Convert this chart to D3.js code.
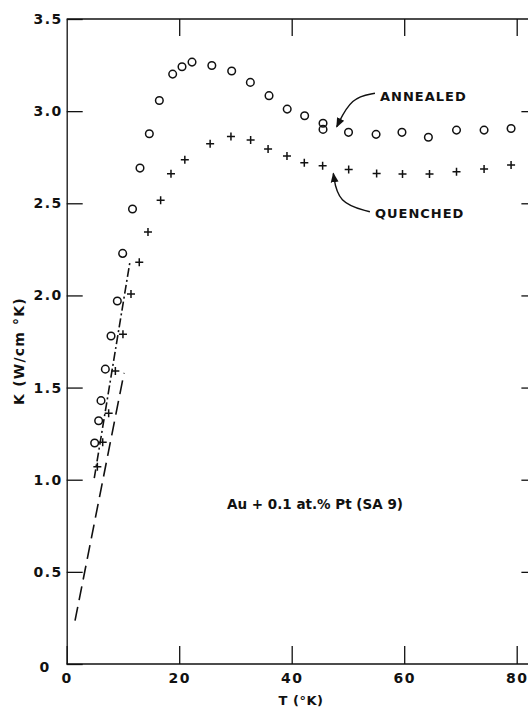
<!DOCTYPE html>
<html>
<head>
<meta charset="utf-8">
<script src="https://cdn.jsdelivr.net/npm/d3@7"></script>
<style>
  body { margin: 0; background: #fff; }
  svg text { font-family: "DejaVu Sans", sans-serif; font-weight: bold; fill: #111; }
</style>
</head>
<body>
<div id="chart"></div>
<script>
// annealed sample (circles)
const annealedT = [4.97, 5.68, 6.1, 6.87, 7.88, 9.0, 9.95, 11.7, 13.03, 14.69, 16.47, 18.84, 20.5, 22.28,
    25.8, 29.33, 32.65, 35.97, 39.2, 42.3, 45.57, 45.57, 50.1, 55.0, 59.6, 64.3, 69.3, 74.2, 79.0];
const annealedK = [1.199, 1.32, 1.429, 1.6, 1.78, 1.97, 2.228, 2.469, 2.691, 2.877, 3.058, 3.201, 3.241, 3.266,
    3.248, 3.218, 3.156, 3.084, 3.011, 2.975, 2.934, 2.901, 2.885, 2.874, 2.885, 2.858, 2.897, 2.897, 2.906];

// quenched sample (crosses)
const quenchedT = [5.45, 6.4, 7.46, 8.65, 10.0, 11.43, 12.9, 14.45, 16.7, 18.54, 21.0, 25.5, 29.2, 32.7,
    35.8, 39.16, 42.24, 45.5, 50.13, 55.1, 59.7, 64.5, 69.3, 74.2, 79.0];
const quenchedK = [1.071, 1.203, 1.36, 1.59, 1.789, 2.008, 2.18, 2.344, 2.516, 2.66, 2.736, 2.823, 2.863, 2.843,
    2.794, 2.756, 2.72, 2.704, 2.684, 2.662, 2.659, 2.659, 2.671, 2.686, 2.708];

// low temperature lines
const dashDotT = [4.9, 11.25];
const dashDotK = [1.008, 2.183];
const dashedT = [1.48, 10.2];
const dashedK = [0.235, 1.58];

const xTicks = [0, 20, 40, 60, 80];
const yTicks = [0, 0.5, 1.0, 1.5, 2.0, 2.5, 3.0, 3.5];

const width = 528, height = 707;
const svg = d3.select('#chart').append('svg')
    .attr('width', width)
    .attr('height', height);

const x = d3.scaleLinear().domain([0, 80]).range([66.7, 516.7]);
const y = d3.scaleLinear().domain([0, 3.5]).range([664, 19]);
const xRight = x(83.5);

const ink = '#111';

// frame + ticks
const bottomAxis = svg.append('g')
    .attr('transform', `translate(0, ${y(0)})`)
    .call(d3.axisBottom(x).tickValues(xTicks).tickSizeInner(-18).tickSizeOuter(0).tickPadding(9).tickFormat(d3.format('d')));
bottomAxis.select('.domain').attr('d', `M${x(0)},0H${xRight}`);

const topAxis = svg.append('g')
    .attr('transform', `translate(0, ${y(3.5)})`)
    .call(d3.axisTop(x).tickValues(xTicks.slice(1)).tickSizeInner(-17).tickSizeOuter(0).tickFormat(''));
topAxis.select('.domain').attr('d', `M${x(0)},0H${xRight}`);

const leftAxis = svg.append('g')
    .attr('transform', `translate(${x(0)}, 0)`)
    .call(d3.axisLeft(y).tickValues(yTicks).tickSizeInner(-16).tickSizeOuter(0).tickPadding(4)
        .tickFormat(d => d === 0 ? '0' : d3.format('.1f')(d)));
leftAxis.selectAll('.tick text').filter(d => d === 0).attr('dx', -12).attr('dy', '0.5em');

svg.append('g')
    .attr('transform', `translate(${xRight}, 0)`)
    .call(d3.axisRight(y).tickValues(yTicks.slice(1, -1)).tickSizeInner(-15).tickSizeOuter(0).tickFormat(''));

svg.selectAll('.domain, .tick line').attr('stroke', ink).attr('stroke-width', 1.3);
svg.selectAll('.tick text')
    .style('font-size', '14px')
    .style('letter-spacing', '1.5px')
    .attr('fill', ink);

// axis titles
svg.append('text')
    .attr('x', 301).attr('y', 705)
    .attr('text-anchor', 'middle')
    .style('font-size', '13px')
    .style('letter-spacing', '0.5px')
    .text('T (°K)');

svg.append('text')
    .attr('transform', 'translate(24, 351) rotate(-90)')
    .attr('text-anchor', 'middle')
    .style('font-size', '14px')
    .style('letter-spacing', '1.2px')
    .text('K (W/cm °K)');

// lines
const line = d3.line().x(d => x(d[0])).y(d => y(d[1]));
svg.append('path')
    .datum(d3.zip(dashDotT, dashDotK))
    .attr('d', line)
    .attr('fill', 'none').attr('stroke', ink).attr('stroke-width', 1.6)
    .attr('stroke-dasharray', '9,3,2,3');
svg.append('path')
    .datum(d3.zip(dashedT, dashedK))
    .attr('d', line)
    .attr('fill', 'none').attr('stroke', ink).attr('stroke-width', 1.6)
    .attr('stroke-dasharray', '14,7');

// circles
svg.selectAll('.ann')
    .data(d3.zip(annealedT, annealedK))
    .enter().append('circle')
    .attr('class', 'ann')
    .attr('cx', d => x(d[0]))
    .attr('cy', d => y(d[1]))
    .attr('r', 3.8)
    .attr('fill', 'none')
    .attr('stroke', ink)
    .attr('stroke-width', 1.5);

// crosses
svg.selectAll('.que')
    .data(d3.zip(quenchedT, quenchedK))
    .enter().append('path')
    .attr('class', 'que')
    .attr('d', d => {
        const cx = x(d[0]), cy = y(d[1]), s = 4;
        return `M${cx - s},${cy}H${cx + s}M${cx},${cy - s}V${cy + s}`;
    })
    .attr('stroke', ink)
    .attr('stroke-width', 1.5);

// labels with curved arrows
svg.append('defs').append('marker')
    .attr('id', 'head')
    .attr('viewBox', '0 0 10 10')
    .attr('refX', 9).attr('refY', 5)
    .attr('markerWidth', 7).attr('markerHeight', 7)
    .attr('orient', 'auto')
    .append('path')
    .attr('d', 'M0,1L10,5L0,9Z')
    .attr('fill', ink);

const curve = d3.line().x(d => x(d[0])).y(d => y(d[1])).curve(d3.curveBasis);

svg.append('text')
    .attr('x', x(55.7)).attr('y', y(3.056))
    .style('font-size', '13px')
    .style('letter-spacing', '1px')
    .text('ANNEALED');
svg.append('path')
    .attr('d', curve([[54.8, 3.097], [50.6, 3.075], [48.0, 2.915]]))
    .attr('fill', 'none').attr('stroke', ink).attr('stroke-width', 1.4)
    .attr('marker-end', 'url(#head)');

svg.append('text')
    .attr('x', x(54.8)).attr('y', y(2.422))
    .style('font-size', '13px')
    .style('letter-spacing', '1px')
    .text('QUENCHED');
svg.append('path')
    .attr('d', curve([[53.9, 2.454], [48.2, 2.50], [47.4, 2.662]]))
    .attr('fill', 'none').attr('stroke', ink).attr('stroke-width', 1.4)
    .attr('marker-end', 'url(#head)');

svg.append('text')
    .attr('x', x(28.5)).attr('y', y(0.84))
    .style('font-size', '13.5px')
    .text('Au + 0.1 at.% Pt (SA 9)');
</script>
</body>
</html>
